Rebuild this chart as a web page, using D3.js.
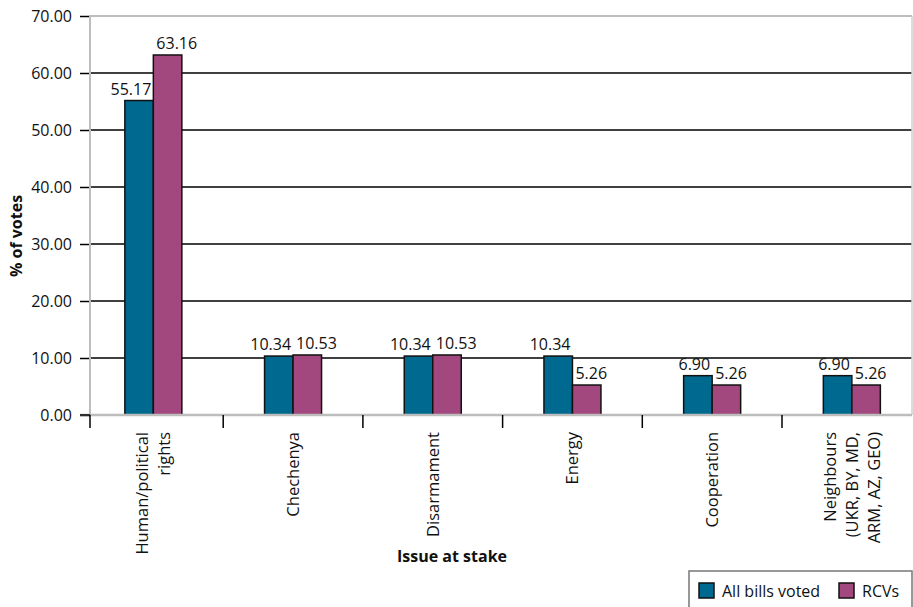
<!DOCTYPE html>
<html>
<head>
<meta charset="utf-8">
<script src="https://cdn.jsdelivr.net/npm/d3@7"></script>
<style>
  html, body { margin: 0; padding: 0; background: #fff; }
  svg { display: block; font-family: "Open Sans", sans-serif; }
</style>
</head>
<body>
<svg id="chart" width="913" height="607"></svg>
<script>
const categories = [
  ["Human/political", "rights"],
  ["Chechenya"],
  ["Disarmament"],
  ["Energy"],
  ["Cooperation"],
  ["Neighbours", "(UKR, BY, MD,", "ARM, AZ, GEO)"]
];
const seriesNames = ["All bills voted", "RCVs"];
const allBillsVoted = [55.17, 10.34, 10.34, 10.34, 6.90, 6.90];
const rcvs = [63.16, 10.53, 10.53, 5.26, 5.26, 5.26];
const yTicks = [0, 10, 20, 30, 40, 50, 60, 70];
const colors = ["#006990", "#a3487f"];

(function () {
const svg = d3.select("#chart");
const pLeft = 90, pRight = 912, pTop = 16, pBottom = 415;

const catKeys = categories.map(c => c.join(" "));
const x0 = d3.scaleBand().domain(catKeys).range([83.5, 921.7])
  .paddingInner(0.592).paddingOuter(0.296);
const x1 = d3.scaleBand().domain(seriesNames).range([0, x0.bandwidth()]);
const y = d3.scaleLinear().domain([0, 70]).range([pBottom, pTop]);

// gridlines
svg.append("g").selectAll("line").data(yTicks.filter(t => t > 0 && t < 70)).join("line")
  .attr("x1", pLeft).attr("x2", pRight)
  .attr("y1", d => y(d)).attr("y2", d => y(d))
  .attr("stroke", "#000").attr("stroke-width", 1.3);

// plot border (top, right)
svg.append("line").attr("x1", pLeft).attr("x2", pRight).attr("y1", y(70)).attr("y2", y(70))
  .attr("stroke", "#bdbdbd").attr("stroke-width", 2);
svg.append("line").attr("x1", pRight).attr("x2", pRight).attr("y1", y(70)).attr("y2", pBottom)
  .attr("stroke", "#d0d0d0").attr("stroke-width", 1.5);

// y axis
const yAxis = d3.axisLeft(y).tickValues(yTicks).tickSize(10).tickPadding(8)
  .tickFormat(d3.format(".2f"));
const gy = svg.append("g").attr("transform", `translate(${pLeft},0)`).call(yAxis);
gy.select(".domain").remove();
gy.selectAll(".tick line").attr("stroke", "#000").attr("stroke-width", 1.5);
gy.selectAll(".tick text").attr("font-size", 16).attr("fill", "#111")
  .attr("font-family", "Open Sans, sans-serif");
svg.append("line").attr("x1", pLeft).attr("x2", pLeft).attr("y1", y(70) - 1).attr("y2", pBottom)
  .attr("stroke", "#bdbdbd").attr("stroke-width", 2);

// bars
const data = catKeys.map((k, i) => ({ key: k, values: [allBillsVoted[i], rcvs[i]] }));
const groups = svg.append("g").selectAll("g").data(data).join("g")
  .attr("transform", d => `translate(${x0(d.key)},0)`);
groups.selectAll("rect").data(d => d.values.map((v, j) => ({ s: seriesNames[j], v, j }))).join("rect")
  .attr("x", d => x1(d.s)).attr("width", x1.bandwidth())
  .attr("y", d => y(d.v)).attr("height", d => y(0) - y(d.v))
  .attr("fill", d => colors[d.j]).attr("stroke", "#111").attr("stroke-width", 1.5);
const vlabels = groups.selectAll("text").data(d => d.values.map((v, j) => ({ s: seriesNames[j], v, j }))).join("text")
  .attr("y", d => y(d.v) - 6)
  .attr("text-anchor", "middle").attr("font-size", 16).attr("fill", "#111")
  .text(d => d3.format(".2f")(d.v));
// keep neighbouring value labels apart: first series pushed left, second pushed right
vlabels.each(function (d) {
  const w = this.getComputedTextLength();
  const bx = x1(d.s), bw = x1.bandwidth(), c = bx + bw / 2;
  const xx = d.j === 0 ? Math.min(c, bx + bw - 2 - w / 2) : Math.max(c, bx + 3 + w / 2);
  d3.select(this).attr("x", xx);
});

// baseline
svg.append("line").attr("x1", pLeft - 10).attr("x2", pRight).attr("y1", pBottom).attr("y2", pBottom)
  .attr("stroke", "#bdbdbd").attr("stroke-width", 2.5);
svg.append("line").attr("x1", pLeft - 10).attr("x2", pLeft).attr("y1", pBottom).attr("y2", pBottom)
  .attr("stroke", "#000").attr("stroke-width", 1.5);

// x category ticks (band boundaries)
const step = x0.step();
const bounds = catKeys.slice(1).map(k => x0(k) - step * x0.paddingInner() / 2);
bounds.unshift(pLeft);
svg.append("g").selectAll("line").data(bounds).join("line")
  .attr("x1", d => d).attr("x2", d => d).attr("y1", pBottom).attr("y2", pBottom + 13)
  .attr("stroke", "#000").attr("stroke-width", 1.5);

// category labels
const lineH = 22;
const labels = svg.append("g").selectAll("g").data(categories).join("g")
  .attr("transform", (c, i) => `translate(${x0(catKeys[i]) + x0.bandwidth() / 2},432) rotate(-90)`);
labels.selectAll("text").data(c => c.map((t, k) => ({ t, k, n: c.length }))).join("text")
  .attr("x", 0).attr("y", d => (d.k - (d.n - 1) / 2) * lineH)
  .attr("dy", "0.35em").attr("text-anchor", "end")
  .attr("font-size", 16.5).attr("fill", "#111").text(d => d.t);

// axis titles
svg.append("text").attr("transform", "translate(22,236) rotate(-90)")
  .attr("text-anchor", "middle").attr("font-size", 16).attr("font-weight", "bold")
  .attr("fill", "#111").text("% of votes");
svg.append("text").attr("x", 452).attr("y", 562)
  .attr("text-anchor", "middle").attr("font-size", 16).attr("font-weight", "bold")
  .attr("fill", "#111").text("Issue at stake");

// legend
const lg = svg.append("g");
lg.append("rect").attr("x", 689).attr("y", 571).attr("width", 223).attr("height", 50)
  .attr("fill", "#fff").attr("stroke", "#777").attr("stroke-width", 1.5);
const legendX = [699, 839];
const li = lg.selectAll("g").data(seriesNames).join("g")
  .attr("transform", (d, i) => `translate(${legendX[i]},583)`);
li.append("rect").attr("width", 15).attr("height", 15)
  .attr("fill", (d, i) => colors[i]).attr("stroke", "#111").attr("stroke-width", 1.5);
li.append("text").attr("x", 23).attr("y", 14).attr("font-size", 16).attr("fill", "#111")
  .text(d => d);
})();
</script>
</body>
</html>
